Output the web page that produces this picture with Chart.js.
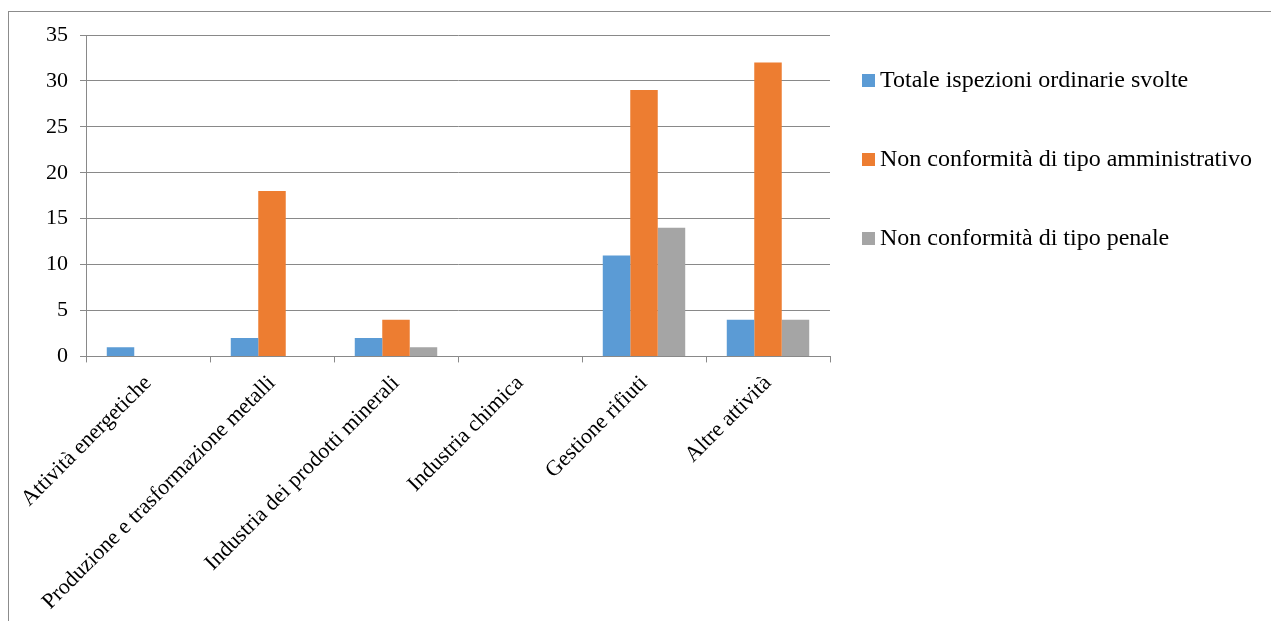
<!DOCTYPE html>
<html>
<head>
<meta charset="utf-8">
<script src="https://cdn.jsdelivr.net/npm/chart.js@4.4.0/dist/chart.umd.min.js"></script>
<style>
    html, body { margin: 0; padding: 0; background: #fff; }
    #wrap { position: relative; width: 1271px; height: 621px; }
</style>
</head>
<body>
<div id="wrap"><canvas id="chart"></canvas></div>
<script>
// Chart data
const categories = [
    'Attività energetiche',
    'Produzione e trasformazione metalli',
    'Industria dei prodotti minerali',
    'Industria chimica',
    'Gestione rifiuti',
    'Altre attività'
];
const seriesNames = [
    'Totale ispezioni ordinarie svolte',
    'Non conformità di tipo amministrativo',
    'Non conformità di tipo penale'
];
const ispezioni = [1, 2, 2, 0, 11, 4];
const amministrativo = [0, 18, 4, 0, 29, 32];
const penale = [0, 0, 1, 0, 14, 4];
const yTicks = [0, 5, 10, 15, 20, 25, 30, 35];

const colors = ['#5B9BD5', '#ED7D31', '#A5A5A5'];
const serif = '"Liberation Serif", "Times New Roman", serif';
const gridColor = '#898989';

// Outer frame and white background
const framePlugin = {
    id: 'frame',
    beforeDraw(chart) {
        const ctx = chart.ctx;
        ctx.save();
        ctx.fillStyle = '#fff';
        ctx.fillRect(0, 0, chart.width, chart.height);
        ctx.strokeStyle = '#8c8c8c';
        ctx.lineWidth = 1;
        ctx.strokeRect(8.5, 11.5, chart.width + 20, chart.height + 20);
        ctx.restore();
    }
};

// Legend placed like the original (left-aligned column, wide spacing)
const sideLegend = {
    id: 'sideLegend',
    afterDraw(chart) {
        const ctx = chart.ctx;
        const x = chart.chartArea.right + 32;
        const rows = [80, 159, 238];
        ctx.save();
        ctx.font = '24px ' + serif;
        ctx.textBaseline = 'middle';
        ctx.textAlign = 'left';
        chart.data.datasets.forEach((ds, i) => {
            ctx.fillStyle = ds.backgroundColor;
            ctx.fillRect(x, rows[i] - 6, 13, 13);
            ctx.fillStyle = '#000';
            ctx.fillText(ds.label, x + 18, rows[i] + 1);
        });
        ctx.restore();
    }
};

const ctx = document.getElementById('chart').getContext('2d');
new Chart(ctx, {
    type: 'bar',
    data: {
        labels: categories,
        datasets: [ispezioni, amministrativo, penale].map((values, i) => ({
            label: seriesNames[i],
            data: values,
            backgroundColor: colors[i],
            borderWidth: 0,
            categoryPercentage: 0.665,
            barPercentage: 1
        }))
    },
    options: {
        responsive: true,
        maintainAspectRatio: false,
        animation: false,
        layout: {
            padding: { top: 35, left: 34, right: 441, bottom: -2 }
        },
        plugins: {
            legend: { display: false },
            tooltip: { enabled: false }
        },
        scales: {
            x: {
                grid: {
                    drawOnChartArea: false,
                    drawTicks: true,
                    tickLength: 6,
                    color: gridColor
                },
                border: { color: gridColor },
                ticks: {
                    autoSkip: false,
                    minRotation: 45,
                    maxRotation: 45,
                    padding: 8,
                    color: '#000',
                    font: { family: serif, size: 22 }
                }
            },
            y: {
                min: 0,
                max: 35,
                afterBuildTicks(scale) {
                    scale.ticks = yTicks.map(v => ({ value: v }));
                },
                grid: {
                    color: gridColor,
                    tickLength: 6
                },
                border: { color: gridColor },
                ticks: {
                    padding: 12,
                    color: '#000',
                    font: { family: serif, size: 22 }
                }
            }
        }
    },
    plugins: [framePlugin, sideLegend]
});
</script>
</body>
</html>
